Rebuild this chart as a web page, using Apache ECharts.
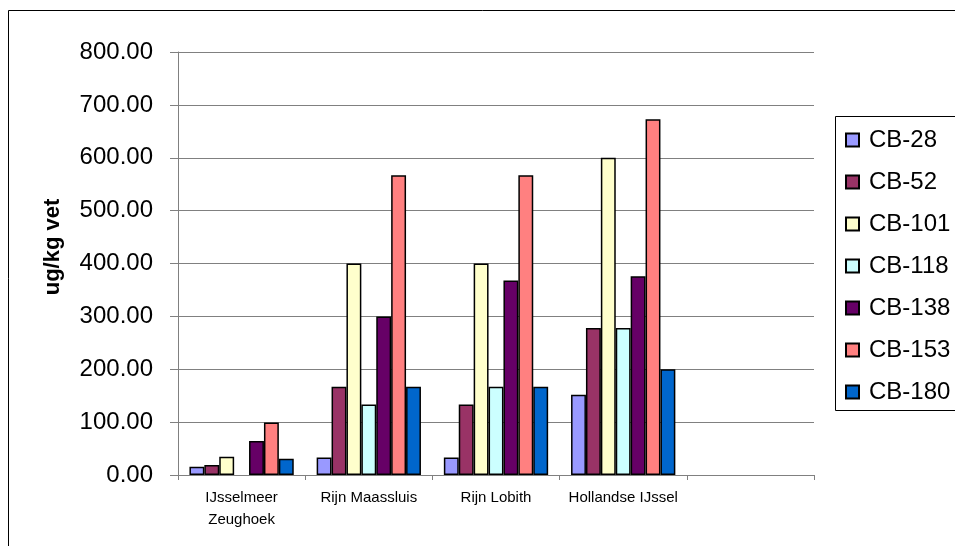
<!DOCTYPE html>
<html><head><meta charset="utf-8">
<script src="https://cdn.jsdelivr.net/npm/echarts@6/dist/echarts.min.js"></script>
<style>html,body{margin:0;padding:0;background:#fff}#c{width:955px;height:546px}</style>
</head><body><div id="c"></div>
<script>
const categories = ['IJsselmeer\nZeughoek', 'Rijn Maassluis', 'Rijn Lobith', 'Hollandse IJssel', ''];
const seriesNames = ['CB-28', 'CB-52', 'CB-101', 'CB-118', 'CB-138', 'CB-153', 'CB-180'];
const cb28  = [15.6, 33.3, 33.3, 152, null];
const cb52  = [19, 166.7, 133.3, 278, null];
const cb101 = [34.5, 400, 400, 600, null];
const cb118 = [null, 133.3, 166.7, 278, null];
const cb138 = [64.5, 300, 368, 376, null];
const cb153 = [99.5, 567, 567, 673, null];
const cb180 = [30.5, 166.7, 166.7, 200, null];
const yTitle = 'ug/kg vet';
const colors = ['#9999FF', '#993366', '#FFFFCC', '#CCFFFF', '#660066', '#FF8080', '#0066CC'];
const values = [cb28, cb52, cb101, cb118, cb138, cb153, cb180];

const chart = echarts.init(document.getElementById('c'));
const font = 'Liberation Sans, Arial, sans-serif';
chart.setOption({
  animation: false,
  color: colors,
  textStyle: { fontFamily: font },
  graphic: [
    { type: 'rect', shape: { x: 8.5, y: 10.5, width: 1000, height: 600 }, style: { fill: 'none', stroke: '#000', lineWidth: 1 }, z: -1 },
    { type: 'rect', shape: { x: 835.5, y: 116.5, width: 200, height: 294 }, style: { fill: '#fff', stroke: '#000', lineWidth: 1 }, z: 0 },
    { type: 'text', x: 53, y: 247, rotation: Math.PI / 2,
      style: { text: yTitle, font: 'bold 22px Liberation Sans, Arial, sans-serif', fill: '#000', align: 'center', verticalAlign: 'middle' } }
  ],
  grid: { left: 178, right: 141, top: 52, bottom: 71, containLabel: false },
  legend: {
    orient: 'vertical', left: 845, top: 128, padding: 0,
    itemWidth: 13, itemHeight: 13, itemGap: 18,
    icon: 'rect',
    textStyle: { fontSize: 24, color: '#000', fontFamily: font, lineHeight: 24, padding: [0, 0, 0, 5] },
    data: seriesNames, z: 5
  },
  xAxis: {
    type: 'category', data: categories,
    axisLine: { lineStyle: { color: '#808080', width: 1 } },
    axisTick: { show: true, length: 5, lineStyle: { color: '#808080' } },
    axisLabel: { interval: 0, fontSize: 15, color: '#000', margin: 12, lineHeight: 22, fontFamily: font }
  },
  yAxis: {
    type: 'value', min: 0, max: 800, interval: 100,
    axisLine: { show: true, lineStyle: { color: '#808080' } },
    axisTick: { show: true, length: 8, lineStyle: { color: '#808080' } },
    axisLabel: { fontSize: 24, color: '#000', margin: 25, fontFamily: font, formatter: v => v.toFixed(2) },
    splitLine: { show: true, lineStyle: { color: '#808080', width: 1 } }
  },
  series: seriesNames.map((n, i) => ({
    name: n, type: 'bar', data: values[i],
    barGap: '0%', barCategoryGap: '18%',
    itemStyle: { color: colors[i], borderColor: '#000', borderWidth: 1.5 }
  }))
});
</script></body></html>
